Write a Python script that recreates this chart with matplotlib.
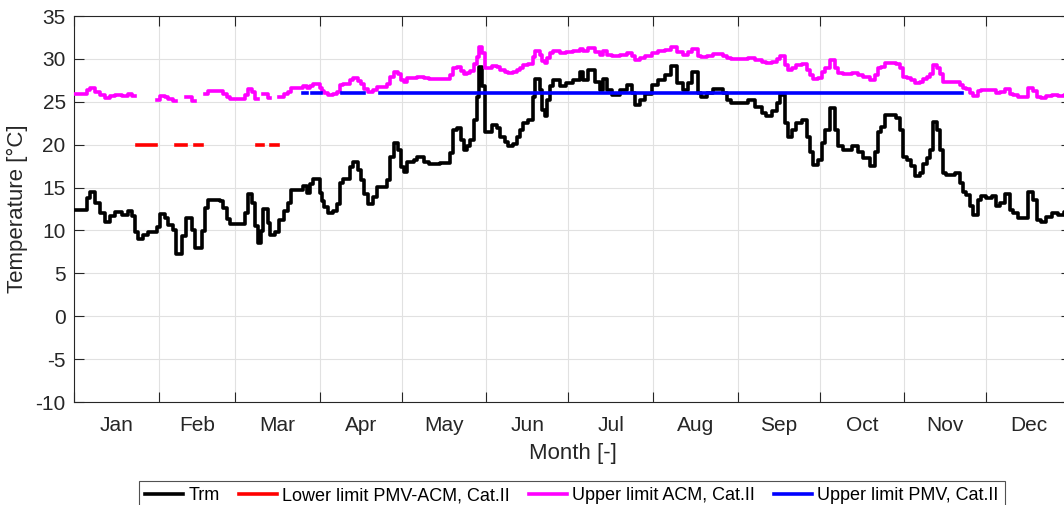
import numpy as np
import matplotlib
matplotlib.use("Agg")
import matplotlib.pyplot as plt
from matplotlib.ticker import FixedLocator, FixedFormatter, NullFormatter

plt.rcParams['font.family'] = ['Liberation Sans', 'DejaVu Sans']

# ---------------- data ----------------
month_labels = ['Jan', 'Feb', 'Mar', 'Apr', 'May', 'Jun',
                'Jul', 'Aug', 'Sep', 'Oct', 'Nov', 'Dec']
month_edges = [0, 31, 59, 90, 120, 151, 181, 212, 243, 273, 304, 334, 365]
y_ticks = [-10, -5, 0, 5, 10, 15, 20, 25, 30, 35]

# running mean outdoor temperature (step changes: day of change, value)
trm_day = [0, 4.9, 5.9, 7.7, 9.5, 11.3, 13.2, 15.0, 17.4, 19.9,
           21.1, 22.3, 23.5, 25.4, 27.2, 30.3, 31.5, 33.3, 34.5, 36.3,
           37.4, 39.4, 40.9, 43.1, 44.3, 46.8, 47.9, 49.2, 53.4, 54.7,
           55.9, 57.1, 62.6, 63.8, 65.0, 66.3, 67.2, 68.4, 69.3, 71.1,
           71.8, 73.6, 75.0, 76.8, 78.2, 79.6, 84.0, 85.2, 86.3, 87.6,
           90.0, 90.8, 91.6, 93.1, 95.0, 96.4, 97.4, 98.6, 101.0, 102.3,
           103.9, 105.2, 106.3, 107.6, 109.6, 110.8, 114.5, 115.8, 117.1, 118.5,
           119.6, 120.9, 122.0, 124.5, 125.7, 128.0, 130.0, 134.0, 137.5, 138.7,
           140.3, 141.5, 142.7, 143.9, 145.0, 146.3, 147.4, 148.2, 149.3, 150.5,
           152.9, 154.7, 155.9, 157.8, 159.0, 160.8, 162.0, 163.2, 164.5, 166.3,
           168.1, 168.7, 170.6, 171.2, 172.4, 173.0, 174.2, 175.4, 177.9, 180.3,
           182.8, 185.2, 186.4, 188.3, 190.7, 192.5, 193.7, 195.0, 196.8, 199.9,
           202.3, 204.1, 205.3, 207.2, 209.0, 211.5, 213.9, 216.3, 218.4, 220.6,
           223.0, 224.9, 226.1, 228.5, 229.7, 231.6, 234.0, 237.7, 238.9, 240.7,
           242.6, 246.8, 249.3, 251.7, 253.5, 255.4, 257.2, 258.4, 260.3, 261.5,
           262.7, 264.5, 266.4, 268.2, 269.4, 270.6, 272.5, 273.7, 274.9, 276.7,
           278.6, 279.8, 281.6, 284.7, 287.1, 289.0, 291.4, 293.2, 294.4, 295.6,
           296.9, 301.1, 302.3, 303.6, 304.8, 306.6, 307.8, 309.7, 310.9, 312.1,
           313.3, 314.5, 315.8, 317.0, 318.2, 319.4, 322.5, 324.3, 325.5, 326.7,
           328.0, 329.2, 331.0, 332.2, 334.0, 335.9, 337.7, 338.9, 340.8, 342.6,
           343.8, 345.6, 349.3, 351.2, 352.4, 354.2, 356.0, 357.9, 360.3, 362.4,
           365.0]
trm_val = [12.4, 13.8, 14.5, 13.2, 12.0, 11.0, 11.7, 12.1, 11.8, 12.3,
           11.7, 9.8, 9.0, 9.5, 9.8, 10.4, 11.9, 11.5, 10.6, 10.1,
           7.2, 9.3, 11.4, 10.1, 8.0, 9.9, 12.6, 13.6, 13.4, 12.6,
           11.3, 10.7, 12.0, 14.2, 13.2, 10.5, 8.5, 9.9, 12.5, 10.9,
           9.5, 9.8, 11.2, 12.3, 13.2, 14.7, 15.2, 14.4, 15.4, 16.0,
           14.4, 13.4, 12.7, 12.0, 12.3, 13.1, 15.5, 16.0, 17.4, 18.0,
           17.0, 15.9, 14.3, 13.1, 13.9, 15.1, 15.9, 18.6, 20.2, 19.4,
           17.4, 16.8, 18.0, 18.2, 18.6, 18.0, 17.7, 17.9, 19.0, 21.7,
           21.9, 20.5, 19.4, 19.8, 20.5, 22.9, 25.6, 29.1, 26.8, 21.5,
           22.3, 21.9, 20.9, 20.3, 19.8, 20.1, 20.9, 21.7, 22.5, 22.9,
           25.5, 27.7, 26.4, 24.0, 23.3, 25.2, 26.8, 27.5, 26.8, 27.2,
           27.5, 28.5, 27.5, 28.7, 27.3, 26.4, 27.7, 26.4, 25.8, 26.4,
           27.0, 26.0, 24.6, 25.2, 25.9, 27.0, 27.5, 28.1, 29.2, 27.2,
           26.4, 27.2, 28.5, 26.0, 25.6, 26.0, 26.5, 26.0, 25.2, 24.8,
           24.9, 25.2, 24.4, 23.7, 23.3, 23.9, 24.8, 25.8, 22.5, 20.9,
           21.7, 22.5, 22.9, 20.9, 19.2, 17.6, 18.2, 20.2, 21.7, 24.3,
           21.7, 19.8, 19.4, 19.8, 19.2, 18.4, 17.5, 19.2, 21.5, 22.1,
           23.5, 23.1, 21.7, 18.6, 18.2, 17.5, 16.3, 16.7, 17.8, 18.4,
           19.4, 22.6, 21.7, 19.4, 16.7, 16.5, 16.7, 15.5, 14.5, 14.1,
           12.8, 11.8, 13.6, 14.0, 13.8, 14.0, 12.8, 13.2, 14.3, 12.4,
           12.0, 11.4, 14.5, 13.6, 11.2, 11.0, 11.6, 12.0, 11.8, 12.1,
           12.1]

nan = float('nan')
# upper limit ACM, Cat.II (same change days as trm_day, gaps where not shown)
acm_upper = [25.89, 26.35, 26.59, 26.16, 25.76, 25.43, 25.66, 25.79, 25.69, 25.86,
             25.66, nan, nan, nan, nan, 25.23, 25.73, 25.60, 25.30, 25.13,
             nan, nan, 25.56, 25.13, nan, nan, 25.96, 26.29, 26.22, 25.96,
             25.53, 25.33, 25.76, 26.49, 26.16, 25.27, nan, nan, 25.93, 25.40,
             nan, nan, 25.50, 25.86, 26.16, 26.65, 26.82, 26.55, 26.88, 27.08,
             26.55, 26.22, 25.99, 25.76, 25.86, 26.12, 26.92, 27.08, 27.54, 27.74,
             27.41, 27.05, 26.52, 26.12, 26.39, 26.78, 27.05, 27.94, 28.47, 28.20,
             27.54, 27.34, 27.74, 27.81, 27.94, 27.74, 27.64, 27.71, 28.07, 28.96,
             29.03, 28.57, 28.20, 28.33, 28.57, 29.36, 30.25, 31.40, 30.64, 28.90,
             29.16, 29.03, 28.70, 28.50, 28.33, 28.43, 28.70, 28.96, 29.23, 29.36,
             30.22, 30.94, 30.51, 29.72, 29.49, 30.12, 30.64, 30.88, 30.64, 30.78,
             30.88, 31.21, 30.88, 31.27, 30.81, 30.51, 30.94, 30.51, 30.31, 30.51,
             30.71, 30.38, 29.92, 30.12, 30.35, 30.71, 30.88, 31.07, 31.44, 30.78,
             30.51, 30.78, 31.21, 30.38, 30.25, 30.38, 30.55, 30.38, 30.12, 29.98,
             30.02, 30.12, 29.85, 29.62, 29.49, 29.69, 29.98, 30.31, 29.23, 28.70,
             28.96, 29.23, 29.36, 28.70, 28.14, 27.61, 27.81, 28.47, 28.96, 29.82,
             28.96, 28.33, 28.20, 28.33, 28.14, 27.87, 27.58, 28.14, 28.90, 29.09,
             29.56, 29.42, 28.96, 27.94, 27.81, 27.58, 27.18, 27.31, 27.67, 27.87,
             28.20, 29.26, 28.96, 28.20, 27.31, 27.25, 27.31, 26.92, 26.59, 26.45,
             26.02, 25.69, 26.29, 26.42, 26.35, 26.42, 26.02, 26.16, 26.52, 25.89,
             25.76, 25.56, 26.59, 26.29, 25.50, 25.43, 25.63, 25.76, 25.69, 25.79,
             25.79]

# lower limit PMV-ACM, Cat.II (constant level, shown on these day ranges)
red_level = 20.0
red_start = [23.0, 37.2, 44.3, 67.0, 72.0]
red_end = [30.0, 41.0, 47.0, 69.2, 74.8]

# upper limit PMV, Cat.II (constant level, shown on these day ranges)
blue_level = 26.0
blue_start = [84.0, 87.0, 98.0, 112.0]
blue_end = [85.3, 90.3, 106.0, 325.0]


def segments(starts, ends, level):
    xs, ys = [], []
    for s, e in zip(starts, ends):
        xs += [s, e, nan]
        ys += [level, level, nan]
    return xs, ys


# ---------------- figure ----------------
W, H = 1064, 505
fig = plt.figure(figsize=(W / 100, H / 100), dpi=100)
ax = fig.add_axes([74 / W, 103 / H, 997 / W, 386 / H])

lw = 2.6
ax.step(trm_day, trm_val, where='post', color='black', lw=lw, label='Trm', zorder=3)
rx, ry = segments(red_start, red_end, red_level)
ax.plot(rx, ry, color='#ff0000', lw=lw, label='Lower limit PMV-ACM, Cat.II', zorder=4)
ax.step(trm_day, acm_upper, where='post', color='#ff00ff', lw=lw,
        label='Upper limit ACM, Cat.II', zorder=4)
bx, by = segments(blue_start, blue_end, blue_level)
ax.plot(bx, by, color='#0000ff', lw=lw, label='Upper limit PMV, Cat.II', zorder=5)

ax.set_xlim(month_edges[0], month_edges[-1])
ax.set_ylim(-10, 35)

dark = '#262626'
ax.xaxis.set_major_locator(FixedLocator(month_edges))
ax.xaxis.set_major_formatter(NullFormatter())
mids = [(a + b) / 2 for a, b in zip(month_edges[:-1], month_edges[1:])]
ax.xaxis.set_minor_locator(FixedLocator(mids))
ax.xaxis.set_minor_formatter(FixedFormatter(month_labels))
ax.set_yticks(y_ticks)
ax.set_yticklabels([str(v) for v in y_ticks])

ax.tick_params(axis='both', which='major', direction='in', length=7, width=0.8,
               colors=dark, labelsize=15, top=True, right=True)
ax.tick_params(axis='x', which='minor', length=0, labelsize=15, colors=dark, pad=10)
ax.tick_params(axis='y', which='major', pad=6)

for sp in ax.spines.values():
    sp.set_color(dark)
    sp.set_linewidth(0.8)

ax.grid(True, which='major', color='#e1e1e1', lw=0.8)
ax.set_axisbelow(True)

ax.set_xlabel('Month [-]', fontsize=16, color=dark, labelpad=6)
ax.set_ylabel('Temperature [°C]', fontsize=16, color=dark, labelpad=5)

handles, labels = ax.get_legend_handles_labels()
leg = fig.legend(handles, labels, loc='upper center', ncol=4,
                 bbox_to_anchor=(572 / W, 1 - 481 / H), fontsize=13,
                 frameon=True, fancybox=False, edgecolor=dark,
                 handlelength=2.1, handletextpad=0.3, columnspacing=1.05,
                 borderpad=0.35, borderaxespad=0)
leg.get_frame().set_linewidth(0.8)

fig.savefig('out.png', dpi=100)
